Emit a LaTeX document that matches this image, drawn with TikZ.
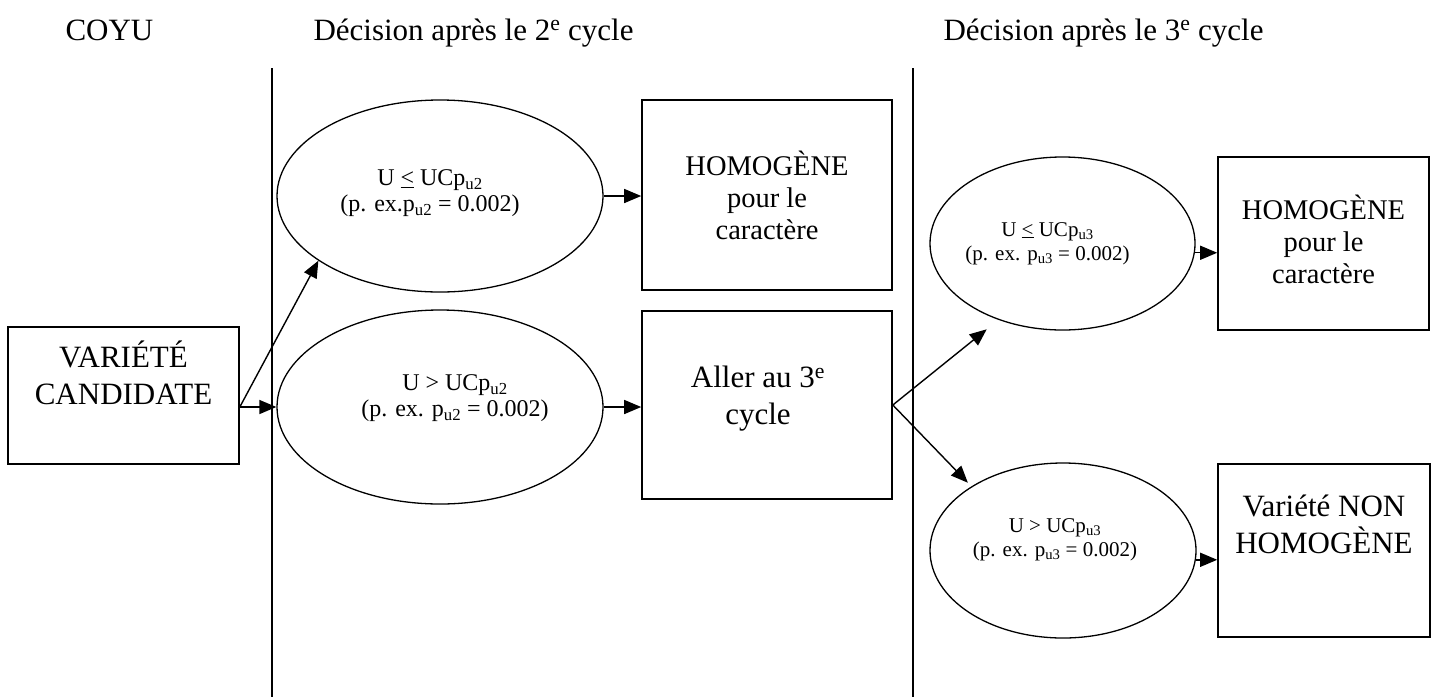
\documentclass[tikz,border=0pt]{standalone}
\usepackage{fontspec}
\setmainfont{Liberation Serif}
\usetikzlibrary{shapes.geometric}
\usetikzlibrary{arrows.meta}

\begin{document}
\begin{tikzpicture}[x=1pt,y=-1pt,
  box/.style={draw,line width=1.6pt,inner sep=0pt},
  oval/.style={draw,ellipse,line width=1.3pt,inner sep=0pt},
  arr/.style={line width=1.4pt,-{Triangle[length=17pt,width=14pt]}},
  big/.style={align=center,font=\fontsize{31}{37}\selectfont},
  mid/.style={align=center,font=\fontsize{28.5}{32}\selectfont},
  small/.style={align=center,font=\fontsize{24}{26}\selectfont},
  tiny/.style={align=center,font=\fontsize{21}{24}\selectfont}]
  \useasboundingbox (0,0) rectangle (1431,697);

  % column titles
  \node [big,anchor=base west] (coyu)  at (62,40)  {COYU};
  \node [big,anchor=base west] (dec2)  at (310,40) {Décision après le 2\textsuperscript{e} cycle};
  \node [big,anchor=base west] (dec3)  at (940,40) {Décision après le 3\textsuperscript{e} cycle};

  % separators
  \draw [line width=1.6pt] (272,68) -- (272,697);
  \draw [line width=1.6pt] (913,68) -- (913,697);

  % shapes
  \node [box,minimum width=231pt,minimum height=137pt]  (cand)  at (123.5,395.5) {};
  \node [oval,minimum width=326pt,minimum height=192pt] (e1)    at (440,196)     {};
  \node [oval,minimum width=326pt,minimum height=194pt] (e2)    at (440,407)     {};
  \node [box,minimum width=250pt,minimum height=190pt]  (hom1)  at (767,195)     {};
  \node [box,minimum width=250pt,minimum height=188pt]  (aller) at (767,405)     {};
  \node [oval,minimum width=265pt,minimum height=173pt] (r1)    at (1062.5,243.5) {};
  \node [oval,minimum width=266pt,minimum height=175pt] (r2)    at (1063,550.5)  {};
  \node [box,minimum width=211pt,minimum height=173pt]  (hom2)  at (1323.5,243.5) {};
  \node [box,minimum width=212pt,minimum height=173pt]  (hom3)  at (1324,550.5)  {};

  % texts
  \node [big]   (candtxt)  at ([yshift=23pt]cand.center)  {VARIÉTÉ\\CANDIDATE};
  \node [small] (e1txt)    at ([xshift=-10pt,yshift=3pt]e1.center)
        {U \underline{<} UCp\textsubscript{u2}\\(p. ex.p\textsubscript{u2} = 0.002)};
  \node [small] (e2txt)    at ([xshift=15pt,yshift=9pt]e2.center)
        {U > UCp\textsubscript{u2}\\(p. ex. p\textsubscript{u2} = 0.002)};
  \node [mid]   (hom1txt)  at (hom1.center) {HOMOGÈNE\\pour le\\caractère};
  \node [big]   (allertxt) at ([xshift=-9pt,yshift=6pt]aller.center) {Aller au 3\textsuperscript{e}\\cycle};
  \node [tiny]  (r1txt)    at ([xshift=-15pt]r1.center)
        {U \underline{<} UCp\textsubscript{u3}\\(p. ex. p\textsubscript{u3} = 0.002)};
  \node [tiny]  (r2txt)    at ([xshift=-8pt,yshift=11pt]r2.center)
        {U > UCp\textsubscript{u3}\\(p. ex. p\textsubscript{u3} = 0.002)};
  \node [mid]   (hom2txt)  at ([yshift=4pt]hom2.center) {HOMOGÈNE\\pour le\\caractère};
  \node [big]   (hom3txt)  at ([yshift=26pt]hom3.center) {Variété NON\\HOMOGÈNE};

  % arrows
  \coordinate (fork1) at (e2.west -| cand.east);
  \draw [arr] (fork1) -- (e2.west);
  \draw [arr] (fork1) -- (e1.208);
  \draw [arr] (e1.east) -- (e1.east -| hom1.west);
  \draw [arr] (e2.east) -- (e2.east -| aller.west);
  \draw [arr,shorten >=15pt] (aller.east) -- (r1.230);
  \draw [arr,shorten >=5pt]  (aller.east) -- (r2.145);
  \draw [arr] (r1.-4) -- (r1.-4 -| hom2.west);
  \draw [arr] (r2.-4) -- (r2.-4 -| hom3.west);
\end{tikzpicture}
\end{document}
